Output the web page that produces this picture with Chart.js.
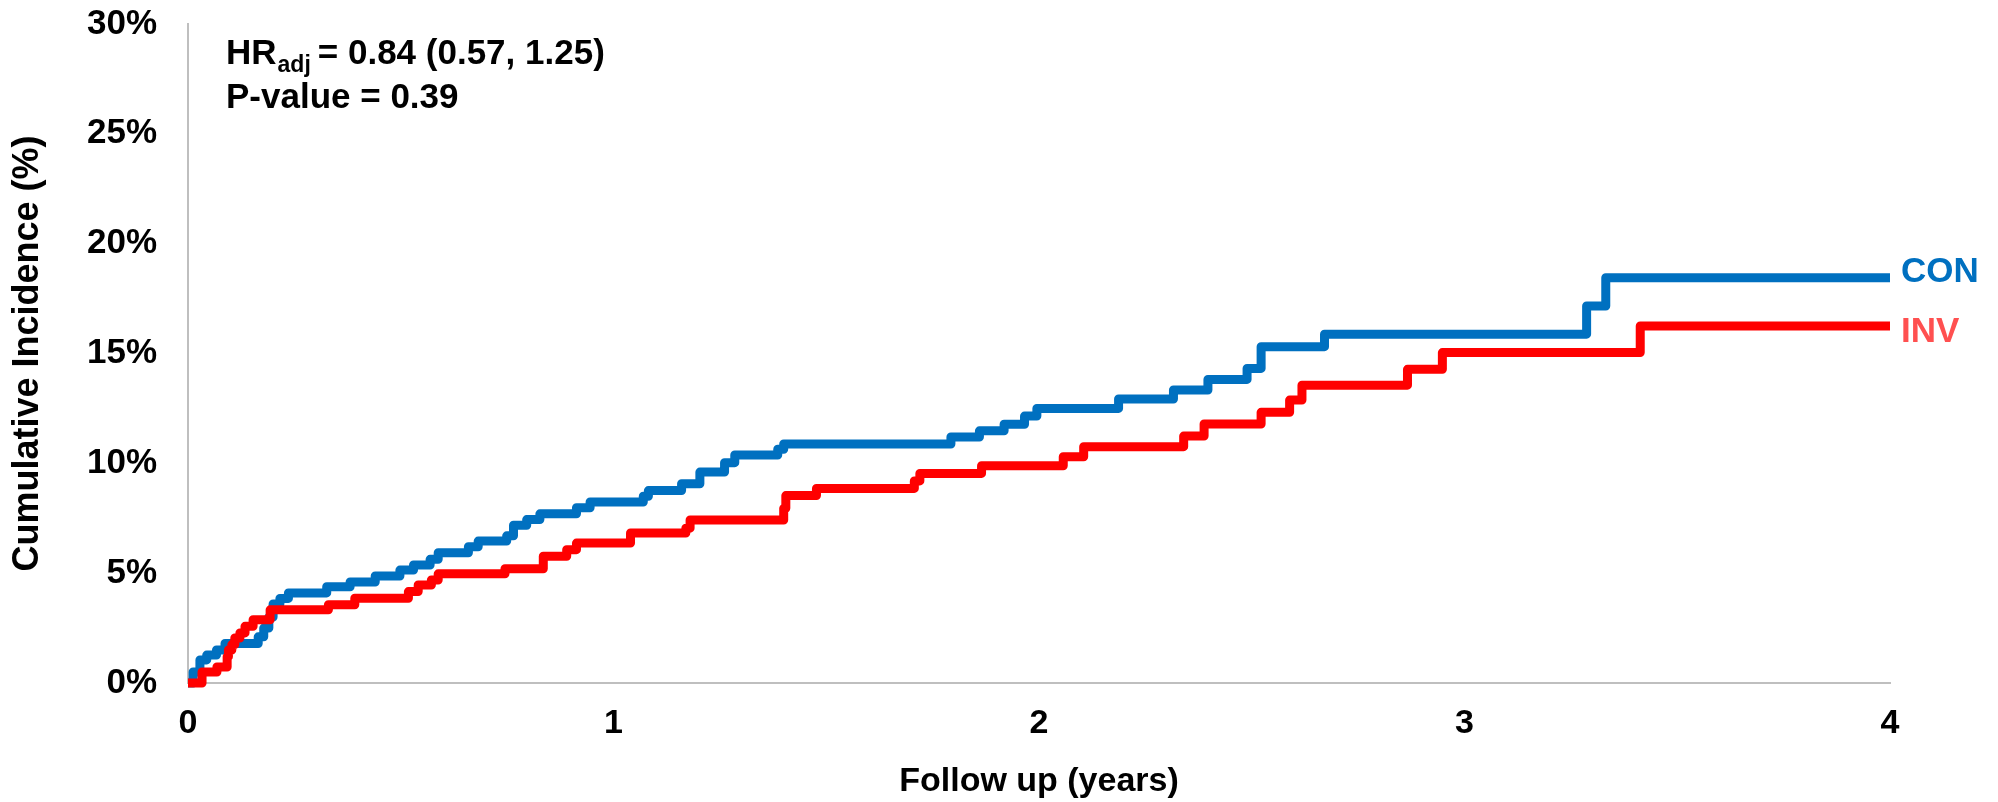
<!DOCTYPE html>
<html lang="en">
<head>
<meta charset="UTF-8">
<title>Cumulative Incidence</title>
<script src="https://cdn.jsdelivr.net/npm/chart.js@4"></script>
<style>
  html, body { margin: 0; padding: 0; background: #fff; }
  #chart { display: block; }
</style>
</head>
<body>
<canvas id="chart" width="1998" height="802"></canvas>
<script>
  // step times (years) and cumulative incidence (%) reached at each step
  const conTimes  = [0, 0.012, 0.028, 0.044, 0.067, 0.087, 0.165, 0.178, 0.19, 0.2, 0.216, 0.236, 0.326, 0.381, 0.44,
                     0.498, 0.53, 0.569, 0.588, 0.659, 0.682, 0.749, 0.765, 0.796, 0.827, 0.913, 0.945, 1.07, 1.082,
                     1.16, 1.203, 1.261, 1.285, 1.386, 1.40, 1.793, 1.86, 1.918, 1.966, 1.995, 2.187, 2.316, 2.397,
                     2.489, 2.522, 2.671, 3.287, 3.332, 4.0];
  const conValues = [0, 0.5, 1.05, 1.27, 1.5, 1.8, 2.1, 2.5, 3.0, 3.6, 3.85, 4.1, 4.38, 4.6, 4.87,
                     5.14, 5.37, 5.63, 5.93, 6.2, 6.46, 6.7, 7.18, 7.44, 7.7, 7.98, 8.24, 8.5, 8.76,
                     9.07, 9.6, 10.03, 10.38, 10.64, 10.88, 11.2, 11.48, 11.78, 12.15, 12.5, 12.93, 13.34, 13.82,
                     14.32, 15.31, 15.88, 17.16, 18.45, 18.45];

  const invTimes  = [0, 0.033, 0.068, 0.092, 0.095, 0.103, 0.11, 0.122, 0.134, 0.153, 0.193, 0.33, 0.392, 0.518,
                     0.541, 0.572, 0.588, 0.745, 0.835, 0.89, 0.913, 1.04, 1.17, 1.18, 1.40, 1.405, 1.477, 1.707,
                     1.72, 1.865, 2.057, 2.105, 2.34, 2.388, 2.522, 2.589, 2.618, 2.866, 2.948, 3.413, 4.0];
  const invValues = [0, 0.5, 0.73, 1.2, 1.5, 1.75, 2.05, 2.28, 2.58, 2.88, 3.33, 3.56, 3.86, 4.16,
                     4.46, 4.69, 4.97, 5.2, 5.77, 6.07, 6.37, 6.83, 7.05, 7.42, 7.95, 8.53, 8.86, 9.2,
                     9.54, 9.89, 10.3, 10.76, 11.24, 11.79, 12.32, 12.88, 13.56, 14.28, 15.04, 16.25, 16.25];

  const xTicks = [0, 1, 2, 3, 4];
  const yTicks = [0, 5, 10, 15, 20, 25, 30];
  const seriesNames = ['CON', 'INV'];

  const FONT = '"Liberation Sans", Arial, sans-serif';

  function toPoints(times, values) {
    return times.map((t, i) => ({ x: t, y: values[i] }));
  }

  // HR text and the end-of-line labels
  const labelsPlugin = {
    id: 'labels',
    afterDatasetsDraw(chart) {
      const { ctx, chartArea, scales } = chart;
      ctx.save();
      ctx.fillStyle = '#000';
      ctx.textAlign = 'left';
      ctx.textBaseline = 'alphabetic';
      let px = chartArea.left + 38;
      ctx.font = 'bold 35px ' + FONT;
      ctx.fillText('HR', px, 64);
      px += ctx.measureText('HR').width;
      ctx.font = 'bold 23px ' + FONT;
      ctx.fillText('adj', px + 1, 72);
      px += ctx.measureText('adj').width + 8;
      ctx.font = 'bold 35px ' + FONT;
      ctx.fillText('= 0.84 (0.57, 1.25)', px, 64);
      ctx.fillText('P-value = 0.39', chartArea.left + 38, 108);

      ctx.textBaseline = 'middle';
      ctx.fillStyle = '#0070C0';
      ctx.fillText(seriesNames[0], chartArea.right + 11, scales.y.getPixelForValue(conValues[conValues.length - 1]) - 5);
      ctx.fillStyle = '#FF5050';
      ctx.fillText(seriesNames[1], chartArea.right + 11, scales.y.getPixelForValue(invValues[invValues.length - 1]) + 6);
      ctx.restore();
    }
  };

  new Chart(document.getElementById('chart'), {
    type: 'line',
    data: {
      datasets: [
        {
          label: seriesNames[1],
          data: toPoints(invTimes, invValues),
          borderColor: '#FF0000',
          borderWidth: 9,
          stepped: true,
          pointRadius: 0,
          borderJoinStyle: 'round',
          clip: false,
          fill: false
        },
        {
          label: seriesNames[0],
          data: toPoints(conTimes, conValues),
          borderColor: '#0070C0',
          borderWidth: 9,
          stepped: true,
          pointRadius: 0,
          borderJoinStyle: 'round',
          clip: false,
          fill: false
        }
      ]
    },
    options: {
      responsive: false,
      animation: false,
      devicePixelRatio: 1,
      layout: { padding: { top: 24, right: 108, left: 0, bottom: 0 } },
      plugins: { legend: { display: false }, tooltip: { enabled: false } },
      scales: {
        x: {
          type: 'linear',
          min: 0,
          max: 4,
          afterBuildTicks: s => { s.ticks = xTicks.map(v => ({ value: v })); },
          afterFit: s => { s.height = 119; s.paddingLeft = 0; s.paddingRight = 0; },
          grid: { display: false, drawTicks: false },
          border: { display: true, color: '#BFBFBF', width: 2 },
          ticks: { color: '#000', padding: 20, font: { family: FONT, size: 34, weight: 'bold' } },
          title: {
            display: true,
            text: 'Follow up (years)',
            color: '#000',
            padding: { top: 0, bottom: 0 },
            font: { family: FONT, size: 34, weight: 'bold' }
          }
        },
        y: {
          min: 0,
          max: 30,
          afterBuildTicks: s => { s.ticks = yTicks.map(v => ({ value: v })); },
          afterFit: s => { s.width = 188; s.paddingTop = 0; s.paddingBottom = 0; },
          grid: { display: false, drawTicks: false },
          border: { display: true, color: '#BFBFBF', width: 2 },
          ticks: {
            color: '#000',
            padding: 31,
            font: { family: FONT, size: 35, weight: 'bold' },
            callback: v => v + '%'
          },
          title: {
            display: true,
            text: 'Cumulative Incidence (%)',
            color: '#000',
            padding: { top: 6, bottom: 0 },
            font: { family: FONT, size: 36, weight: 'bold' }
          }
        }
      }
    },
    plugins: [labelsPlugin]
  });
</script>
</body>
</html>
